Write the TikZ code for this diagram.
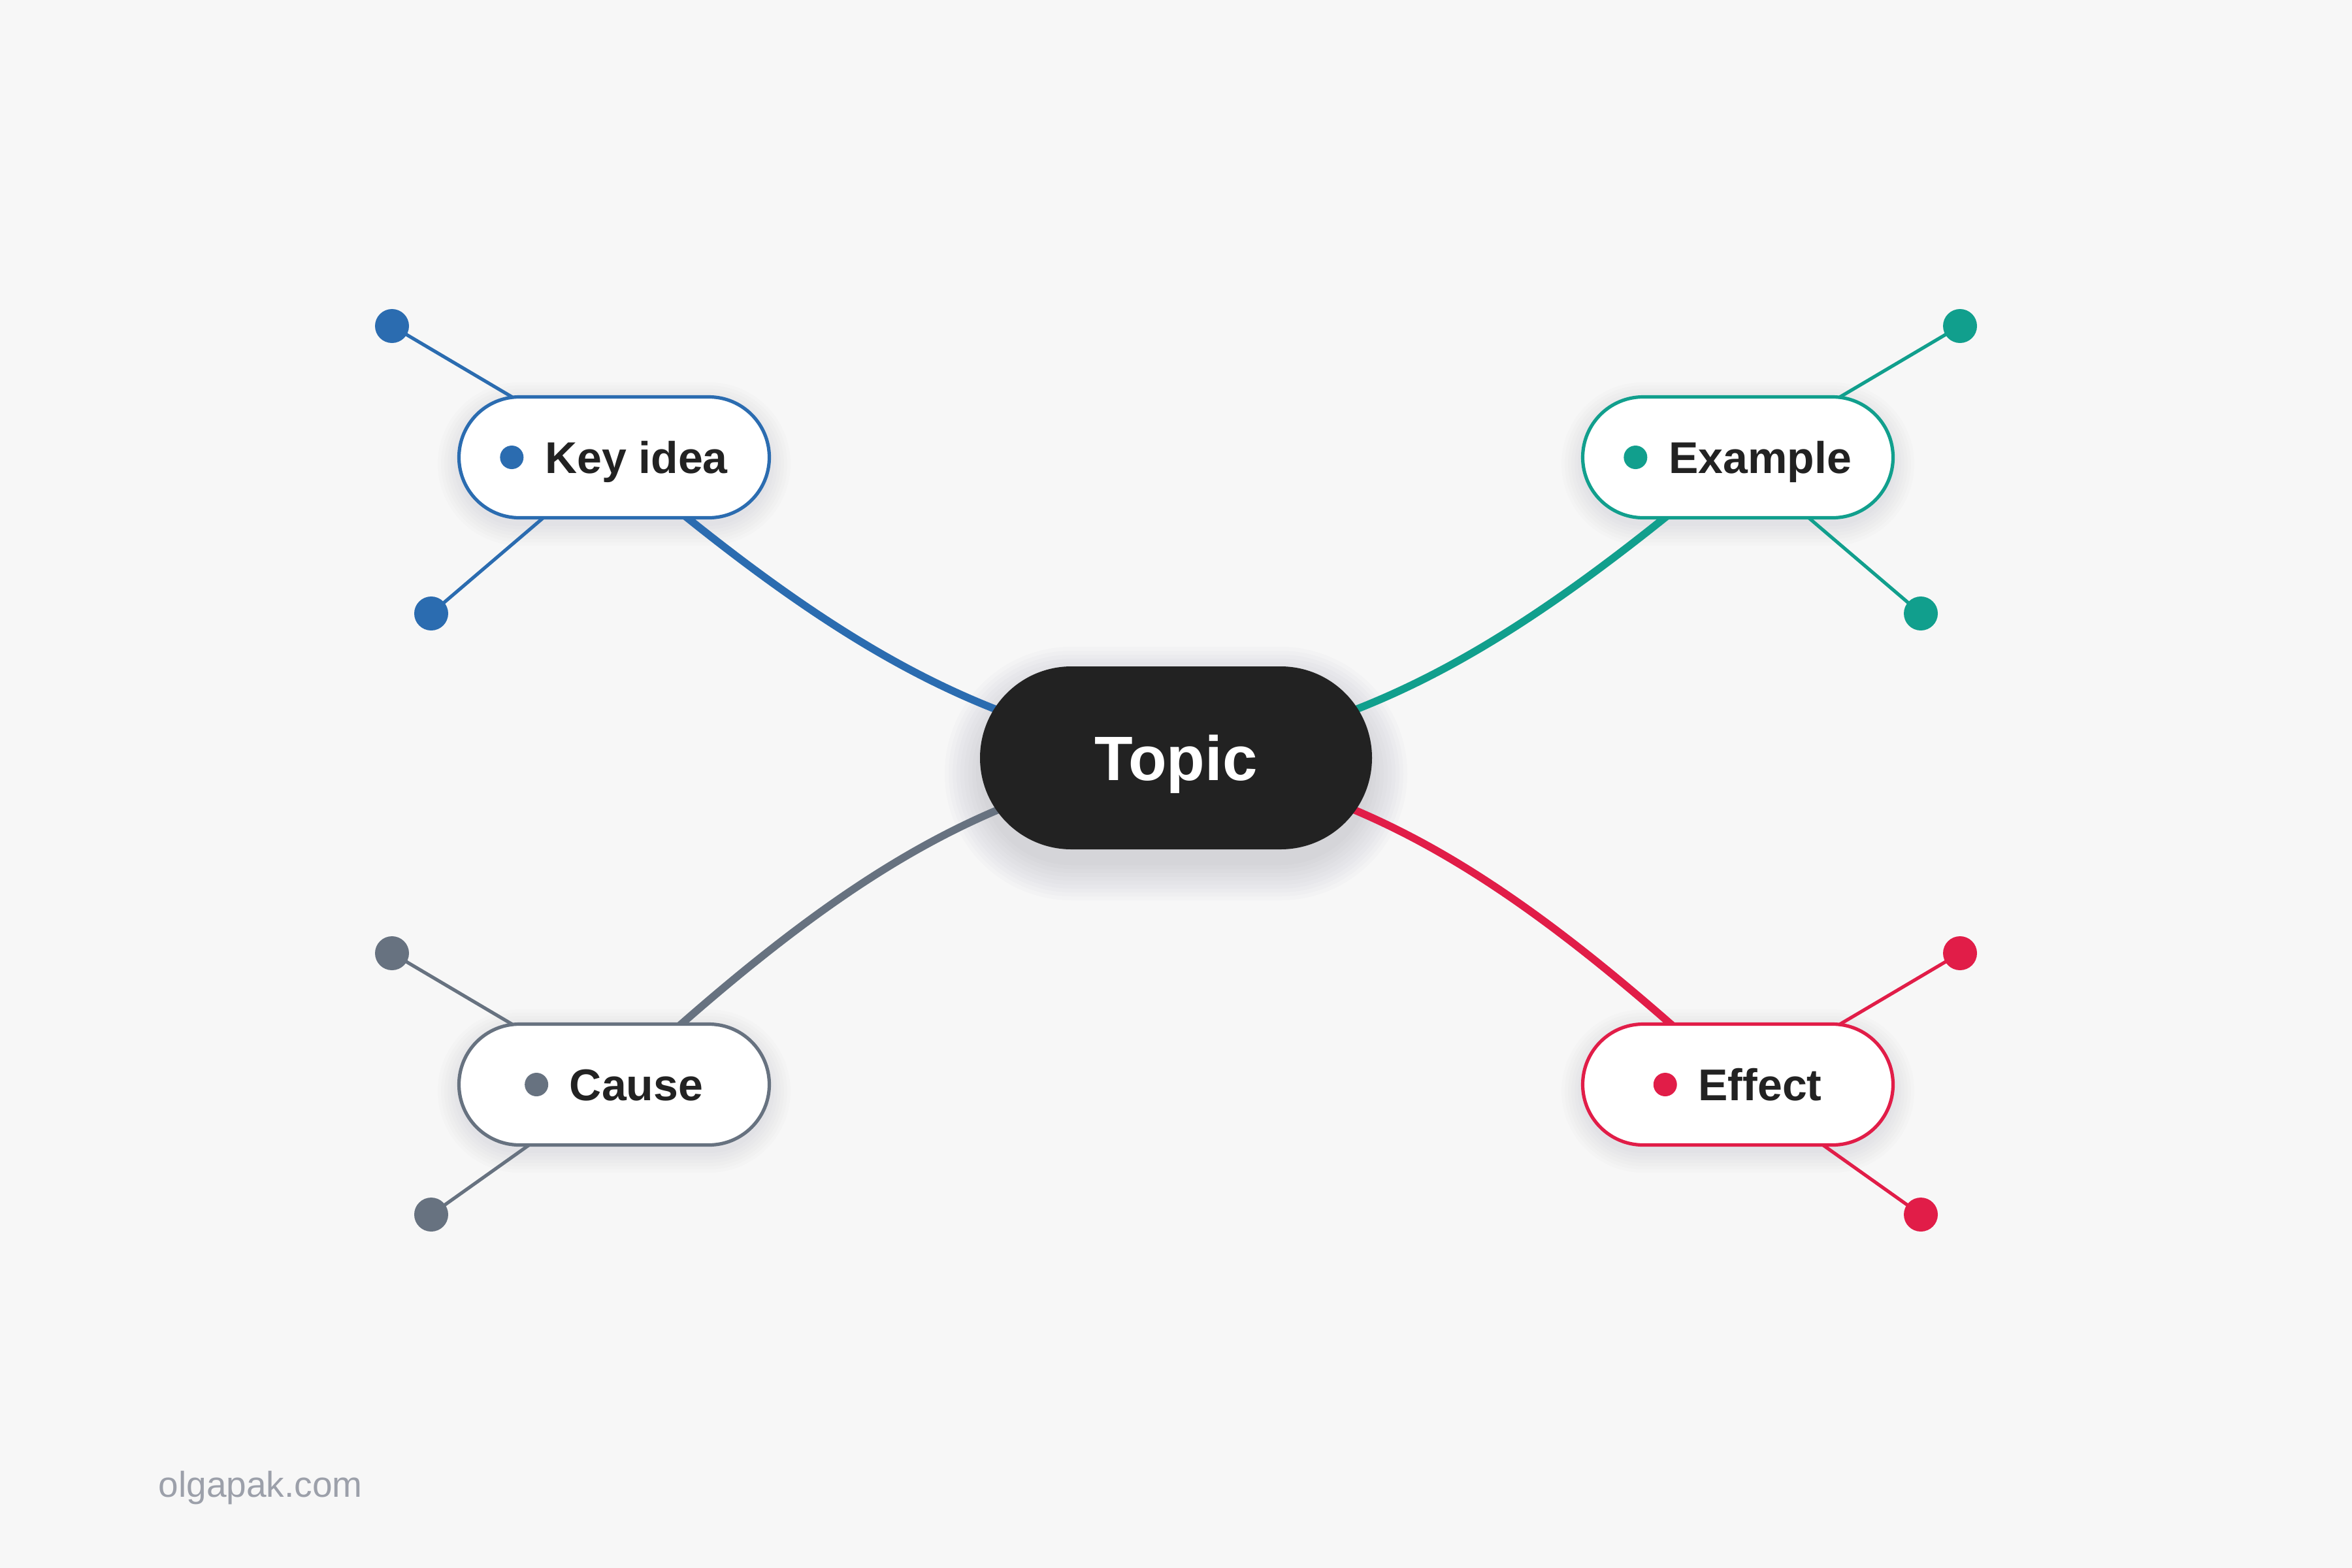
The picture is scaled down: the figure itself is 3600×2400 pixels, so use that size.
\documentclass[tikz,border=0pt]{standalone}
\usepackage{fontspec}
\setmainfont{Liberation Sans}
\usetikzlibrary{calc}

\definecolor{bgc}{RGB}{247,247,247}
\definecolor{topicc}{RGB}{34,34,34}
\definecolor{inkc}{RGB}{34,34,34}
\definecolor{bluec}{RGB}{43,108,176}
\definecolor{tealc}{RGB}{17,159,141}
\definecolor{grayc}{RGB}{103,114,128}
\definecolor{redc}{RGB}{225,29,72}
\definecolor{markc}{RGB}{156,160,170}
\definecolor{shadowc}{RGB}{40,40,70}

\pgfdeclarelayer{bglayer}
\pgfdeclarelayer{shadowlayer}
\pgfdeclarelayer{edgelayer}
\pgfsetlayers{bglayer,shadowlayer,edgelayer,main}

% #1 node name, #2 half width, #3 half height, #4 y offset, #5 opacity per layer, #6 spread list
\newcommand{\nodeshadow}[6]{%
  \foreach \e in {#6} {%
    \pgfmathsetmacro\rr{(#3+\e)*0.25}%
    \fill[shadowc, opacity=#5, rounded corners=\rr pt]
      ($(#1.center)+(-#2-\e,-#3-\e+#4)$) rectangle ($(#1.center)+(#2+\e,#3+\e+#4)$);
  }%
}

\begin{document}
\begin{tikzpicture}[x=0.25pt,y=-0.25pt,
  topicbox/.style={rectangle, rounded corners=35pt, fill=topicc,
    minimum width=150pt, minimum height=70pt, inner sep=0pt,
    text=white, font=\fontsize{24}{28}\selectfont\bfseries,
    text height=17.2pt, text depth=0pt},
  childbox/.style={rectangle, rounded corners=23.125pt, draw=#1, line width=1.3pt,
    fill=white, minimum width=118.75pt, minimum height=46.25pt, inner sep=0pt},
  lbl/.style={font=\fontsize{17}{20}\selectfont\bfseries, text=inkc,
    inner sep=0pt, anchor=base},
  dotin/.style={circle, fill=#1, minimum size=9pt, inner sep=0pt},
  leaf/.style={circle, fill=#1, minimum size=13pt, inner sep=0pt},
  branch/.style={draw=#1, line width=2.9pt},
  twig/.style={draw=#1, line width=1.3pt}]

\useasboundingbox (0,0) rectangle (3600,2400);
\begin{pgfonlayer}{bglayer}
  \fill[bgc] (0,0) rectangle (3600,2400);
\end{pgfonlayer}

% central topic
\node[topicbox] (t) at (1800,1160) {Topic};

% child nodes
\node[childbox=bluec] (k) at (940,700) {};
\node[childbox=tealc] (e) at (2660,700) {};
\node[childbox=grayc] (c) at (940,1660) {};
\node[childbox=redc]  (f) at (2660,1660) {};

% labels and inner dots
\node[lbl] (kt) at (974,724) {Key idea};
\node[lbl] (et) at (2694,724) {Example};
\node[lbl] (ct) at (974,1684) {Cause};
\node[lbl] (ft) at (2694,1684) {Effect};
\node[dotin=bluec] (kd) at ($(kt.base west)+(-50,-24)$) {};
\node[dotin=tealc] (ed) at ($(et.base west)+(-50,-24)$) {};
\node[dotin=grayc] (cd) at ($(ct.base west)+(-50,-24)$) {};
\node[dotin=redc]  (fd) at ($(ft.base west)+(-50,-24)$) {};

% leaf dots
\node[leaf=bluec] (k1) at (600,499) {};
\node[leaf=bluec] (k2) at (660,939) {};
\node[leaf=tealc] (e1) at (3000,499) {};
\node[leaf=tealc] (e2) at (2940,939) {};
\node[leaf=grayc] (c1) at (600,1459) {};
\node[leaf=grayc] (c2) at (660,1859) {};
\node[leaf=redc]  (f1) at (3000,1459) {};
\node[leaf=redc]  (f2) at (2940,1859) {};

% watermark
\node[font=\fontsize{13.75}{16}\selectfont, text=markc, inner sep=0pt, anchor=base west]
  (wm) at (242,2291) {olgapak.com};

% shadows
\begin{pgfonlayer}{shadowlayer}
  \nodeshadow{t}{300}{140}{24}{0.017}{0,6,12,18,24,30,36,42,48,54}
  \nodeshadow{k}{240}{95}{10}{0.010}{0,5,10,15,20,25,30}
  \nodeshadow{e}{240}{95}{10}{0.010}{0,5,10,15,20,25,30}
  \nodeshadow{c}{240}{95}{10}{0.010}{0,5,10,15,20,25,30}
  \nodeshadow{f}{240}{95}{10}{0.010}{0,5,10,15,20,25,30}
\end{pgfonlayer}

% connectors
\begin{pgfonlayer}{edgelayer}
  \draw[branch=bluec] (k.center) .. controls +(350,297.5) and +(-300,-50) .. (t.center);
  \draw[branch=tealc] (e.center) .. controls +(-350,297.5) and +(300,-50) .. (t.center);
  \draw[branch=grayc] (c.center) .. controls +(352,-325) and +(-300,55) .. (t.center);
  \draw[branch=redc]  (f.center) .. controls +(-352,-325) and +(300,55) .. (t.center);
  \draw[twig=bluec] (k.center) -- (k1.center);
  \draw[twig=bluec] (k.center) -- (k2.center);
  \draw[twig=tealc] (e.center) -- (e1.center);
  \draw[twig=tealc] (e.center) -- (e2.center);
  \draw[twig=grayc] (c.center) -- (c1.center);
  \draw[twig=grayc] (c.center) -- (c2.center);
  \draw[twig=redc]  (f.center) -- (f1.center);
  \draw[twig=redc]  (f.center) -- (f2.center);
\end{pgfonlayer}
\end{tikzpicture}
\end{document}
